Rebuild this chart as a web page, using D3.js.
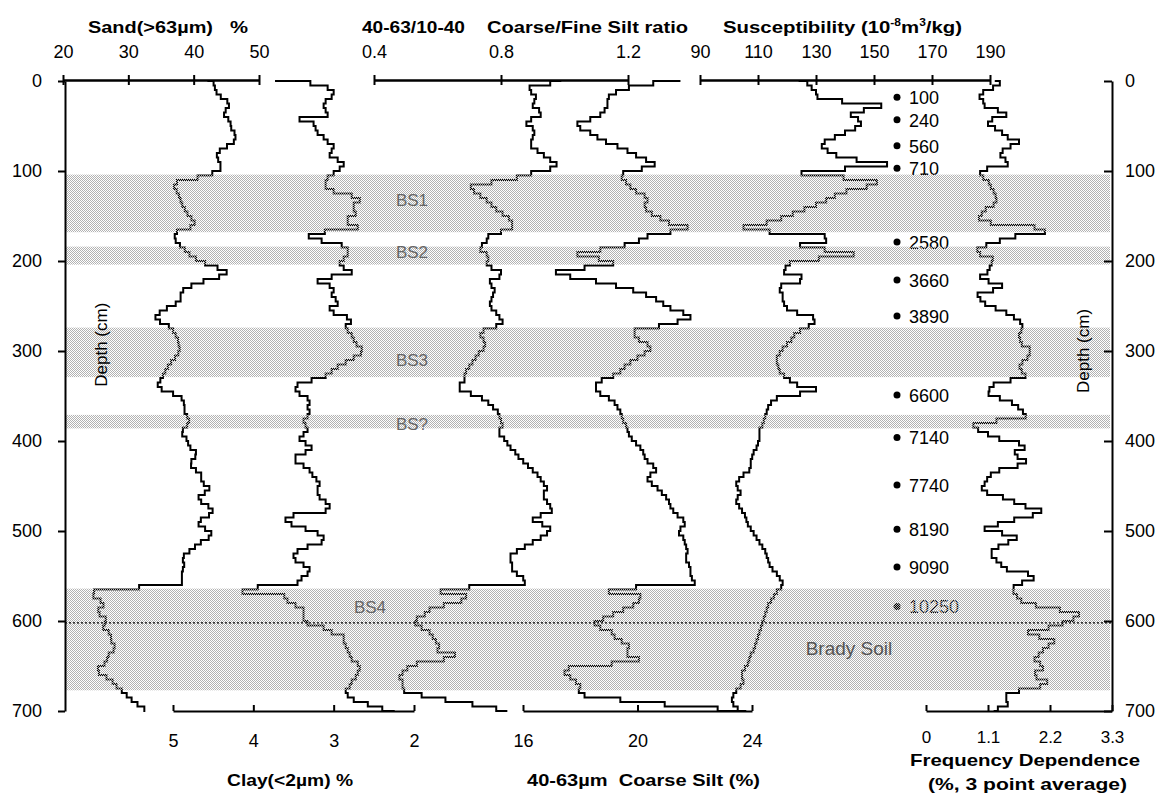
<!DOCTYPE html>
<html>
<head>
<meta charset="utf-8">
<script src="https://cdn.jsdelivr.net/npm/d3@7"></script>
<style>
  body { margin: 0; background: #fff; }
  svg text { font-family: "Liberation Sans", Arial, sans-serif; }
</style>
</head>
<body>
<div class="viz"></div>
<script>
// depth grid (cm) the profiles were read at
const depths = d3.range(0, 705, 5)

const sand = [42.1,44.0,42.5,44.5,43.8,46.5,44.3,45.5,43.8,46.8,44.5,47.0,45.5,47.3,45.0,45.2,42.8,44.3,43.2,45.0,
  43.2,42.5,38.7,36.2,37.8,37.0,38.5,37.5,39.0,38.3,39.8,39.5,40.8,38.2,36.7,37.5,37.0,38.8,38.5,40.2,
  40.5,43.0,44.3,45.8,42.0,41.0,38.3,38.5,37.5,38.5,36.0,35.8,33.8,34.5,35.2,37.2,36.5,38.0,37.2,38.2,
  37.5,37.8,36.5,36.6,35.5,35.8,34.8,35.0,34.0,36.2,37.5,38.8,38.2,39.0,38.2,39.8,38.8,39.2,37.5,39.0,
  38.8,39.5,39.5,41.2,39.3,40.0,39.2,41.5,40.8,41.5,41.6,43.2,40.2,41.3,41.0,43.5,42.3,42.4,39.8,41.7,
  41.8,43.6,41.0,41.2,39.2,39.5,37.5,39.2,37.9,38.8,37.6,38.8,37.6,25.7,23.8,25.5,26.0,26.4,24.4,26.8,
  26.3,26.5,25.8,28.2,26.5,28.3,27.5,28.0,26.0,27.5,25.2,25.5,25.5,27.8,27.4,29.0,29.0,30.5,30.5,32.3,32.6]

const clay = [3.73,2.85,3.30,2.70,3.35,2.85,3.40,2.80,3.35,3.50,3.00,3.45,2.95,3.30,2.85,3.15,2.90,3.20,2.70,3.05,
  2.80,3.20,2.95,3.25,2.95,3.05,2.50,2.85,2.65,2.85,2.60,3.05,2.60,2.80,3.42,3.20,3.10,2.70,2.95,2.70,
  3.05,2.80,2.95,2.60,3.45,2.95,3.15,2.85,3.20,2.75,3.15,2.95,3.05,2.62,2.95,2.75,2.90,2.65,2.85,2.58,
  2.72,2.60,2.90,2.80,3.10,2.95,3.25,3.30,3.60,3.35,3.50,3.15,3.45,3.20,3.40,3.25,3.50,3.20,3.45,3.30,
  3.55,3.15,3.40,3.30,3.65,3.30,3.45,3.15,3.38,3.05,3.30,3.10,3.30,3.05,3.15,2.95,3.25,3.75,3.45,3.60,
  3.10,3.30,2.95,3.35,3.30,3.60,3.40,3.55,3.20,3.40,3.25,3.55,3.35,4.54,3.73,3.50,3.65,3.30,3.45,3.30,
  3.45,3.20,3.05,3.00,2.75,3.00,2.70,2.95,2.65,2.90,2.50,2.85,2.55,2.90,2.65,2.95,2.75,2.90,2.60,2.55,2.24]

const silt_ratio = [0.99,0.92,0.86,0.93,0.89,0.92,0.88,0.96,0.89,0.90,0.86,0.94,0.87,0.93,0.86,0.93,0.90,0.97,0.94,1.01,
  0.90,0.89,0.81,0.73,0.68,0.75,0.72,0.79,0.75,0.82,0.79,0.86,0.81,0.86,0.74,0.78,0.73,0.75,0.72,0.79,
  0.73,0.78,0.76,0.84,0.75,0.78,0.76,0.80,0.75,0.79,0.74,0.80,0.77,0.82,0.79,0.78,0.71,0.76,0.73,0.77,
  0.72,0.74,0.70,0.72,0.68,0.70,0.67,0.70,0.64,0.70,0.71,0.77,0.75,0.80,0.78,0.81,0.79,0.82,0.77,0.82,
  0.80,0.84,0.82,0.87,0.84,0.90,0.87,0.93,0.90,0.95,0.92,0.97,0.90,0.97,0.92,0.99,0.93,0.92,0.88,0.98,
  0.93,0.96,0.89,0.91,0.84,0.86,0.80,0.86,0.81,0.86,0.84,0.90,0.85,0.55,0.67,0.71,0.64,0.60,0.55,0.57,
  0.50,0.56,0.54,0.61,0.56,0.63,0.58,0.62,0.69,0.55,0.52,0.49,0.49,0.47,0.51,0.47,0.52,0.58,0.67,0.75,0.82]

const coarse_silt = [21.5,19.6,19.8,18.7,19.3,18.6,19.3,18.4,19.0,17.7,18.1,17.9,18.8,18.4,19.4,19.2,20.1,19.8,20.8,20.4,
  19.9,19.1,19.8,19.4,20.1,19.8,20.7,20.0,20.5,20.1,20.9,20.7,21.5,22.0,20.3,20.4,19.7,19.4,18.0,17.8,
  19.5,18.8,17.5,16.8,18.5,18.6,19.9,19.8,20.8,20.5,21.3,21.0,22.2,21.5,21.3,20.2,19.6,20.2,19.9,20.8,
  20.1,20.4,19.6,19.9,19.2,19.6,18.7,18.8,18.3,18.8,18.6,19.4,19.0,19.6,19.2,19.7,19.3,19.9,19.4,20.0,
  19.6,20.3,19.9,20.5,20.0,20.7,20.4,20.9,20.0,20.7,20.3,21.1,20.6,21.4,20.8,21.5,21.0,21.8,21.4,21.9,
  21.1,21.8,21.4,21.9,21.5,22.0,21.4,22.0,21.6,22.1,21.6,22.2,21.8,18.1,19.9,20.3,19.8,19.9,19.1,19.2,
  18.4,18.6,18.8,19.4,19.0,19.9,19.5,19.8,19.5,20.6,17.6,17.6,17.3,18.0,17.7,18.3,17.6,18.7,20.1,21.8,23.8]

const susceptibility = [124,130,127,133,128,150,155,138,146,143,148,139,141,132,134,130,138,136,152,157,
  123,127,152,150,145,136,137,130,130,122,122,114,112,98,130,136,131,118,148,138,
  124,118,121,117,133,116,120,115,122,115,123,117,130,128,131,124,125,120,123,117,
  120,115,118,115,119,116,122,120,127,133,116,117,112,115,111,114,110,113,108,113,
  108,112,107,110,106,109,106,108,102,105,100,106,102,104,101,106,103,108,104,109,
  106,111,108,113,110,115,111,116,112,118,115,120,117,119,114,117,112,115,111,114,
  110,113,109,112,108,111,107,110,105,109,104,107,102,107,103,105,100,103,99,104,102]

const freq_dep = [1.22,1.40,0.98,1.05,0.85,1.18,0.90,1.65,1.20,1.15,1.05,1.40,1.30,1.60,1.70,1.30,1.42,1.22,1.60,1.30,
  0.87,1.05,0.98,1.25,1.05,1.35,1.12,1.38,1.02,1.10,0.88,1.00,1.30,2.55,1.67,1.50,1.12,1.02,0.80,1.12,
  1.25,1.08,1.18,1.00,0.92,1.30,1.40,0.98,0.85,1.08,1.02,1.45,1.40,1.72,1.62,1.80,1.58,1.72,1.62,1.78,
  1.90,1.78,1.82,1.60,1.72,1.68,1.85,1.15,1.25,1.00,1.22,1.40,1.65,1.62,1.82,1.72,0.78,0.90,0.95,1.25,
  1.35,1.95,1.55,1.60,1.65,1.90,1.35,1.25,1.05,1.12,0.96,1.02,1.15,1.58,1.55,1.98,2.11,1.68,1.45,1.10,
  0.98,1.72,1.50,1.42,1.15,1.18,1.15,1.35,1.32,1.55,2.07,1.75,1.66,1.45,1.65,1.58,1.80,2.10,2.65,2.78,
  2.45,2.40,1.95,1.67,2.35,2.20,2.15,2.00,2.00,1.85,2.20,1.95,1.92,2.00,2.30,1.75,1.55,1.30,1.55,1.35,1.20]

// buried soils
const bandTop = [104, 184, 274, 371, 564]
const bandBottom = [168, 204, 329, 386, 677]
const bandNames = ['BS1', 'BS2', 'BS3', 'BS?', 'BS4']
const bandLabelDepth = [132, 190, 310, 381, 584]

// OSL ages
const ageDepths = [18, 43, 72, 97, 179, 221, 261, 349, 396, 449, 498, 540, 584]
const ageLabels = ['100', '240', '560', '710', '2580', '3660', '3890', '6600', '7140', '7740', '8190', '9090', '10250']

const width = 1161
const height = 799

const svg = d3.select('.viz')
  .append('svg')
  .attr('width', width)
  .attr('height', height)

const defs = svg.append('defs')
const pat = defs.append('pattern')
  .attr('id', 'stipple')
  .attr('width', 2).attr('height', 2)
  .attr('patternUnits', 'userSpaceOnUse')
pat.append('rect').attr('x', 0).attr('y', 0).attr('width', 1).attr('height', 1).attr('fill', '#b2b2b2')
pat.append('rect').attr('x', 1).attr('y', 1).attr('width', 1).attr('height', 1).attr('fill', '#b2b2b2')

const y = d3.scaleLinear().domain([0, 700]).range([81, 711])

const sandX = d3.scaleLinear().domain([20, 50]).range([63, 259])
const clayX = d3.scaleLinear().domain([5, 2]).range([173, 414])
const ratioX = d3.scaleLinear().domain([0.4, 1.2]).range([374, 628])
const siltX = d3.scaleLinear().domain([16, 24]).range([523, 752])
const suscX = d3.scaleLinear().domain([90, 190]).range([700, 990])
const freqX = d3.scaleLinear().domain([0, 3.3]).range([926, 1112])

const series = [
  { values: sand, x: sandX },
  { values: clay, x: clayX },
  { values: silt_ratio, x: ratioX },
  { values: coarse_silt, x: siltX },
  { values: susceptibility, x: suscX },
  { values: freq_dep, x: freqX }
]

// profiles
series.forEach(s => {
  const pts = depths.map((d, i) => ({ d, v: s.values[i] })).filter(p => p.v != null)
  const line = d3.line()
    .x(p => s.x(p.v))
    .y(p => y(p.d))
    .curve(d3.curveStep)
  svg.append('path')
    .datum(pts)
    .attr('d', line)
    .attr('fill', 'none')
    .attr('stroke', '#000')
    .attr('stroke-width', 2)
})

// age dots + labels
const ages = svg.append('g')
ages.selectAll('circle')
  .data(ageDepths)
  .enter()
  .append('circle')
  .attr('cx', 897)
  .attr('cy', d => y(d))
  .attr('r', 3.5)
  .attr('fill', '#000')
ages.selectAll('text')
  .data(ageDepths)
  .enter()
  .append('text')
  .text((d, i) => ageLabels[i])
  .attr('x', 909)
  .attr('y', d => y(d))
  .attr('dy', '0.38em')
  .attr('font-size', 18)

// shaded soil bands, laid over the lines like the original
svg.selectAll('.band')
  .data(bandTop)
  .enter()
  .append('rect')
  .attr('class', 'band')
  .attr('x', 66)
  .attr('width', 1044)
  .attr('y', d => y(d))
  .attr('height', (d, i) => y(bandBottom[i]) - y(d))
  .attr('fill', 'url(#stipple)')

// 600 cm dotted line
svg.append('line')
  .attr('x1', 65).attr('x2', 1112)
  .attr('y1', y(602)).attr('y2', y(602))
  .attr('stroke', '#000')
  .attr('stroke-width', 1.2)
  .attr('stroke-dasharray', '2,2')

// band labels
svg.selectAll('.bslabel')
  .data(bandNames)
  .enter()
  .append('text')
  .attr('class', 'bslabel')
  .text(d => d)
  .attr('x', (d, i) => i === 4 ? 370 : 412)
  .attr('y', (d, i) => y(bandLabelDepth[i]))
  .attr('dy', '0.36em')
  .attr('text-anchor', 'middle')
  .attr('font-size', 17)
  .attr('fill', '#666')

svg.append('text')
  .text('Brady Soil')
  .attr('x', 849)
  .attr('y', y(630))
  .attr('dy', '0.36em')
  .attr('text-anchor', 'middle')
  .attr('font-size', 19)
  .attr('fill', '#555')

// axes
const styleAxis = (g, fs) => {
  g.select('.domain').attr('stroke-width', 2)
  g.selectAll('.tick line').attr('stroke-width', 2)
  g.selectAll('.tick text').attr('font-size', fs || 18).attr('fill', '#000')
    .attr('font-family', '"Liberation Sans", Arial, sans-serif')
}

const topAxis = (scale, vals, fmt) => {
  svg.append('g')
    .attr('transform', 'translate(0,80)')
    .call(d3.axisTop(scale).tickValues(vals).tickSizeInner(-5).tickSizeOuter(0).tickFormat(''))
    .call(styleAxis)
  svg.append('g')
    .attr('transform', 'translate(0,80)')
    .call(d3.axisTop(scale).tickValues(vals).tickSizeInner(5).tickSizeOuter(0).tickPadding(17).tickFormat(fmt))
    .call(styleAxis)
}
topAxis(sandX, [20, 30, 40, 50], d3.format('d'))
topAxis(ratioX, [0.4, 0.8, 1.2], d3.format('.1f'))
topAxis(suscX, [90, 110, 130, 150, 170, 190], d3.format('d'))

const bottomAxis = (scale, vals, fmt, pad, fs) => {
  svg.append('g')
    .attr('transform', 'translate(0,711)')
    .call(d3.axisBottom(scale).tickValues(vals).tickSizeInner(-6).tickSizeOuter(0).tickPadding(pad).tickFormat(fmt))
    .call(styleAxis, fs)
}
bottomAxis(clayX, [5, 4, 3, 2], d3.format('d'), 23)
bottomAxis(siltX, [16, 20, 24], d3.format('d'), 23)
bottomAxis(freqX, [0, 1.1, 2.2, 3.3], d => d === 0 ? '0' : d3.format('.1f')(d), 20, 17)

const depthTicks = [0, 100, 200, 300, 400, 500, 600, 700]
svg.append('g')
  .attr('transform', 'translate(65,0)')
  .call(d3.axisLeft(y).tickValues(depthTicks).tickSizeInner(7).tickSizeOuter(0).tickPadding(16))
  .call(styleAxis)
svg.append('g')
  .attr('transform', 'translate(1112,0)')
  .call(d3.axisRight(y).tickValues(depthTicks).tickSizeInner(-8).tickSizeOuter(0).tickPadding(13))
  .call(styleAxis)

// axis titles
svg.append('text').text('Depth (cm)')
  .attr('transform', `translate(107,${y(293)}) rotate(-90)`)
  .attr('text-anchor', 'middle').attr('font-size', 17)
svg.append('text').text('Depth (cm)')
  .attr('transform', `translate(1089,${y(300)}) rotate(-90)`)
  .attr('text-anchor', 'middle').attr('font-size', 17)

// the source figure's lettering is stretched sideways, so fix each title's width
const bold = (txt, x, yy, w, fs) => svg.append('text')
  .text(txt)
  .attr('x', x).attr('y', yy)
  .attr('font-size', fs || 17)
  .attr('font-weight', 'bold')
  .attr('textLength', w)
  .attr('lengthAdjust', 'spacingAndGlyphs')

bold('Sand(>63\u00b5m)', 88, 33, 125)
bold('%', 230, 33, 18)
bold('40-63/10-40', 362, 33, 103)
bold('Coarse/Fine Silt ratio', 487, 33, 201)

const sus = svg.append('text')
  .attr('x', 723).attr('y', 33)
  .attr('font-size', 17)
  .attr('font-weight', 'bold')
  .attr('textLength', 239)
  .attr('lengthAdjust', 'spacingAndGlyphs')
sus.append('tspan').text('Susceptibility (10')
sus.append('tspan').text('-8').attr('font-size', 10).attr('dy', -7)
sus.append('tspan').text('m').attr('dy', 7)
sus.append('tspan').text('3').attr('font-size', 10).attr('dy', -7)
sus.append('tspan').text('/kg)').attr('dy', 7)

bold('Clay(<2\u00b5m) %', 227, 786, 126)
bold('40-63\u00b5m  Coarse Silt (%)', 527, 786, 233).attr('xml:space', 'preserve')
bold('Frequency Dependence', 910, 766, 230, 16.5)
bold('(%, 3 point average)', 928, 790, 199, 16.5)
</script>
</body>
</html>
